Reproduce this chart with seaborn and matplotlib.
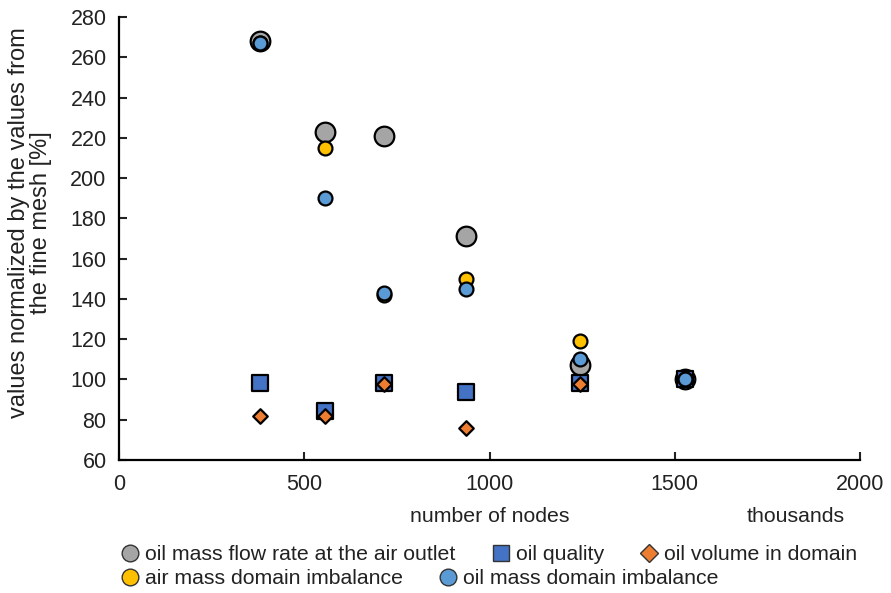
import pandas as pd
import matplotlib.pyplot as plt
import seaborn as sns
from matplotlib.lines import Line2D

sns.set_theme(style="white")
plt.rcParams['font.family'] = ['Liberation Sans', 'DejaVu Sans']

# number of nodes (thousands)
nodes = [380, 556, 715, 937, 1244, 1528]

oil_flow_outlet = [268, 223, 221, 171, 107, 100]
oil_quality = [98, 84.5, 98, 94, 98, 100]
oil_volume = [82, 82, 97.5, 76, 97.5, 100]
air_imbalance = [267, 215, 142, 150, 119, 100]
oil_imbalance = [267, 190, 143, 145, 110, 100]

labels = ["oil mass flow rate at the air outlet", "oil quality", "oil volume in domain",
          "air mass domain imbalance", "oil mass domain imbalance"]
colors = ["#A5A5A5", "#4472C4", "#ED7D31", "#FFC000", "#5B9BD5"]
markers = ["o", "s", "D", "o", "o"]
sizes = [200, 125, 55, 100, 100]

fig = plt.figure(figsize=(8.91, 5.93), dpi=100)
ax = fig.add_axes([119 / 891, 1 - 460 / 593, 741 / 891, 443 / 593])

series = [oil_flow_outlet, oil_quality, oil_volume, air_imbalance, oil_imbalance]
for vals, lab, c, m, s in zip(series, labels, colors, markers, sizes):
    df = pd.DataFrame({"nodes": nodes, "value": vals})
    sns.scatterplot(data=df, x="nodes", y="value", color=c, marker=m, s=s,
                    edgecolor="black", linewidth=1.6, ax=ax, legend=False, zorder=3)

fs = 15.3
ax.set_xlim(0, 2000)
ax.set_ylim(60, 280)
ax.set_xticks([0, 500, 1000, 1500, 2000])
ax.set_yticks(range(60, 281, 20))
ax.tick_params(direction="in", length=6, width=1.5, labelsize=15.5, colors="#222222",
               pad=9, left=True, bottom=True)
ax.tick_params(axis="x", pad=10)
for sp in ["top", "right"]:
    ax.spines[sp].set_visible(False)
for sp in ["left", "bottom"]:
    ax.spines[sp].set_linewidth(1.6)
    ax.spines[sp].set_color("black")

ax.set_ylabel("")
ax.set_xlabel("number of nodes", fontsize=fs, color="#222222", labelpad=9)
fig.text(30 / 891, 1 - 223 / 593, "values normalized by the values from\nthe fine mesh [%]",
         fontsize=17, color="#222222", rotation=90, ha="center", va="center",
         multialignment="center", linespacing=1.0)
fig.text(796 / 891, 1 - 517 / 593, "thousands", fontsize=fs, color="#222222",
         ha="center", va="center")

handles = [Line2D([], [], linestyle="", marker=m, markersize=ms, markerfacecolor=c,
                  markeredgecolor="#333333", markeredgewidth=1.0)
           for m, c, ms in zip(markers, colors, [12, 12, 9, 12, 12])]

fig.legend(handles[:3], labels[:3], ncol=3, frameon=False, fontsize=fs,
           loc="center left", bbox_to_anchor=(117 / 891, 1 - 555 / 593),
           handletextpad=0.1, columnspacing=1.55, handlelength=1.2,
           borderaxespad=0, borderpad=0)
fig.legend(handles[3:], labels[3:], ncol=2, frameon=False, fontsize=fs,
           loc="center left", bbox_to_anchor=(117 / 891, 1 - 579 / 593),
           handletextpad=0.1, columnspacing=1.55, handlelength=1.2,
           borderaxespad=0, borderpad=0)
for leg in fig.legends:
    for t in leg.get_texts():
        t.set_color("#222222")

fig.savefig("out.png", dpi=100)
